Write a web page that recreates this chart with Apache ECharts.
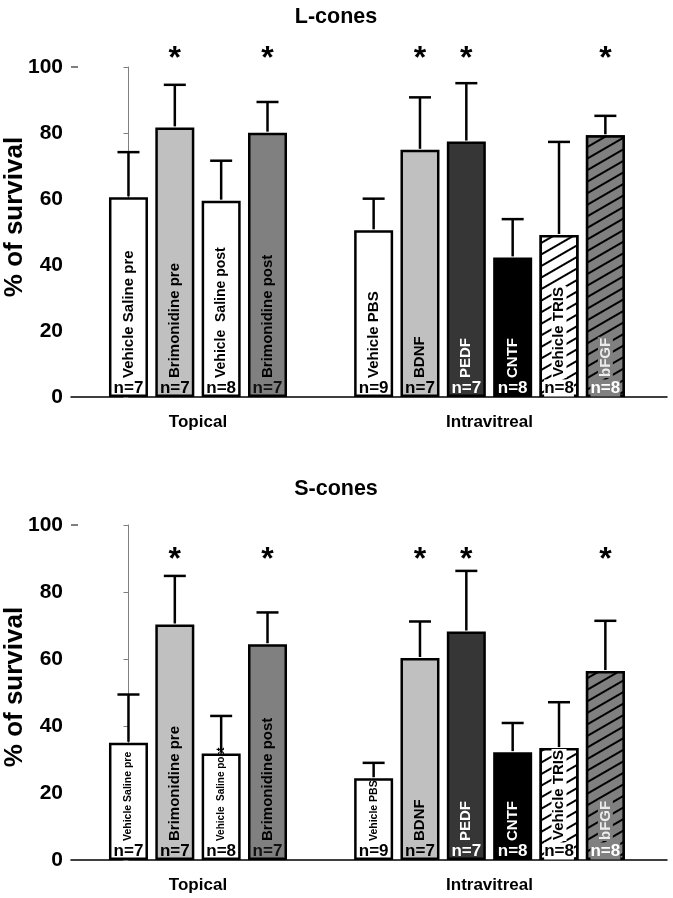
<!DOCTYPE html>
<html><head><meta charset="utf-8">
<script src="https://cdn.jsdelivr.net/npm/echarts@6/dist/echarts.min.js"></script>
<style>html,body{margin:0;padding:0;background:#fff}#c{width:673px;height:898px}</style>
</head><body><div id="c"></div>
<script>
// ---------- data ----------
const barLabels = ['Vehicle Saline pre','Brimonidine pre','Vehicle  Saline post','Brimonidine post','Vehicle PBS','BDNF','PEDF','CNTF','Vehicle TRIS','bFGF'];
const groupOf = [0,0,0,0,1,1,1,1,1,1];
const groupNames = ['Topical','Intravitreal'];
const nLabels = ['n=7','n=7','n=8','n=7','n=9','n=7','n=7','n=8','n=8','n=8'];
const lMeans = [60.5,81.7,59.5,80.1,50.5,74.9,77.4,42.3,49.1,79.3];
const lSD    = [13.7,12.9,12.1,9.3,9.6,15.9,17.7,11.6,28.2,5.9];
const lSig   = [0,1,0,1,0,1,1,0,0,1];
const sMeans = [35.0,70.3,31.8,64.4,24.4,60.3,68.2,32.2,33.4,56.4];
const sSD    = [14.4,14.5,11.2,9.5,4.6,10.9,18.1,8.7,13.7,15.0];
const sSig   = [0,1,0,1,0,1,1,0,0,1];
const yTicks = [0,20,40,60,80,100];

// ---------- styles / layout ----------
const FONT = '"Liberation Sans", Arial, Helvetica, sans-serif';
const GAP = 1.29;
const XMIN = -1.24, XMAX = 11.62;
const xPos = i => i + (groupOf[i] ? GAP : 0);
const barColors = ['#ffffff','#c0c0c0','#ffffff','#808080','#ffffff','#c0c0c0','#363636','#000000','#ffffff','#808080'];
const textColors = ['#000','#000','#000','#000','#000','#000','#fff','#fff','#000','#ececec'];
const nColors = ['#000','#000','#000','#111','#000','#000','#fff','#fff','#000','#fff'];
const textBg = [null,null,null,null,null,null,null,null,'#ffffff','#808080'];
const hatch = (bg) => ({symbol:'rect', symbolSize:1, symbolKeepAspect:false, color:'#000', backgroundColor:bg,
  dashArrayX:[1,0], dashArrayY:[2,8], rotation: -Math.PI/6});
const decals = [null,null,null,null,null,null,null,null,hatch('#ffffff'),hatch('#808080')];

const panels = [
  {title:'L-cones', titleY:17, top:67, height:330, means:lMeans, sd:lSD, sig:lSig, star:104.5, nameY:217,
   sizes:[15,15,14,15,15,15,15,15,15,15]},
  {title:'S-cones', titleY:489, top:525, height:335, means:sMeans, sd:sSD, sig:sSig, star:91.5, nameY:687,
   sizes:[10.5,15,10,15,10.5,15,15,15,15,15]}
];

const grids=[], xAxes=[], yAxes=[], series=[], graphics=[];
panels.forEach((p, pi) => {
  grids.push({left:71, right:6, top:p.top, height:p.height});
  xAxes.push({type:'value', gridIndex:pi, min:XMIN, max:XMAX,
    axisLine:{show:true, onZero:false, lineStyle:{color:'#000', width:1.5}},
    axisTick:{show:false}, axisLabel:{show:false}, splitLine:{show:false}});
  yAxes.push({type:'value', gridIndex:pi, min:yTicks[0], max:yTicks[yTicks.length-1], interval:yTicks[1]-yTicks[0],
    axisLine:{show:true, lineStyle:{color:'#808080', width:1}},
    axisTick:{show:true, length:5, lineStyle:{color:'#808080'}},
    axisLabel:{color:'#000', fontSize:21, fontWeight:'bold', fontFamily:FONT, margin:8},
    splitLine:{show:false}});
  graphics.push({type:'text', x:336, y:p.titleY, style:{text:p.title, font:'bold 21.5px '+FONT, fill:'#000', align:'center', verticalAlign:'middle'}});
  graphics.push({type:'text', x:15, y:p.nameY, rotation:Math.PI/2, style:{text:'% of survival', font:'bold 26px '+FONT, fill:'#000', align:'center', verticalAlign:'middle'}});

  series.push({type:'bar', xAxisIndex:pi, yAxisIndex:pi, barWidth:39, z:2,
    data:p.means.map((v,i)=>({value:[xPos(i), v], itemStyle:{color:barColors[i], decal:decals[i]}})),
    itemStyle:{borderColor:'#000', borderWidth:2.5}});

  series.push({type:'custom', xAxisIndex:pi, yAxisIndex:pi, z:3, encode:{x:0, y:1},
    data:p.means.map((v,i)=>[xPos(i), v, v + p.sd[i]]),
    renderItem:(params, api)=>{
      const a = api.coord([api.value(0), api.value(1)]);
      const b = api.coord([api.value(0), api.value(2)]);
      const st = {stroke:'#000', lineWidth:2.5};
      return {type:'group', children:[
        {type:'line', shape:{x1:a[0], y1:a[1]-1, x2:b[0], y2:b[1]}, style:st},
        {type:'line', shape:{x1:b[0]-11, y1:b[1], x2:b[0]+11, y2:b[1]}, style:st}]};
    }});

  series.push({type:'custom', xAxisIndex:pi, yAxisIndex:pi, z:4, encode:{x:0, y:1},
    data:barLabels.map((t,i)=>[xPos(i), 0, i]),
    renderItem:(params, api)=>{
      const i = api.value(2);
      const c = api.coord([api.value(0), api.value(1)]);
      const ts = {text:barLabels[i], font:'bold '+p.sizes[i]+'px '+FONT, fill:textColors[i], align:'left', verticalAlign:'middle'};
      if (textBg[i]) { ts.backgroundColor = textBg[i]; ts.padding = [0,1,0,1]; }
      const ns = {text:nLabels[i], font:'bold 17px '+FONT, fill:nColors[i], align:'center', verticalAlign:'middle'};
      if (textBg[i]) { ns.backgroundColor = textBg[i]; }
      return {type:'group', children:[
        {type:'text', x:c[0], y:c[1]-19, rotation:Math.PI/2, style:ts},
        {type:'text', x:c[0], y:c[1]-9, style:ns}]};
    }});

  series.push({type:'custom', xAxisIndex:pi, yAxisIndex:pi, z:4, encode:{x:0, y:1}, clip:false,
    data:p.sig.map((s,i)=>s ? [xPos(i), p.star] : null).filter(d=>d),
    renderItem:(params, api)=>{
      const c = api.coord([api.value(0), api.value(1)]);
      return {type:'text', x:c[0], y:c[1]+7, style:{text:'*', font:'bold 32px '+FONT, fill:'#000', align:'center', verticalAlign:'middle'}};
    }});

  series.push({type:'custom', xAxisIndex:pi, yAxisIndex:pi, z:4, encode:{x:0, y:1}, clip:false,
    data:groupNames.map((g,gi)=>{
      const idx = groupOf.map((gg,i)=>gg===gi?i:-1).filter(i=>i>=0);
      return [idx.reduce((s,i)=>s+xPos(i),0)/idx.length, 0, gi];
    }),
    renderItem:(params, api)=>{
      const c = api.coord([api.value(0), api.value(1)]);
      return {type:'text', x:c[0], y:c[1]+25, style:{text:groupNames[api.value(2)], font:'bold 17px '+FONT, fill:'#000', align:'center', verticalAlign:'middle'}};
    }});

  series.push({type:'custom', xAxisIndex:pi, yAxisIndex:pi, z:4, encode:{x:0, y:1}, clip:false,
    data:[[XMIN, yTicks[yTicks.length-1]]],
    renderItem:(params, api)=>{
      const c = api.coord([api.value(0), api.value(1)]);
      return {type:'line', shape:{x1:c[0], y1:c[1], x2:c[0]+7, y2:c[1]}, style:{stroke:'#555', lineWidth:1.5}};
    }});
});

const chart = echarts.init(document.getElementById('c'), null, {renderer:'canvas'});
chart.setOption({animation:false, backgroundColor:'#fff', grid:grids, xAxis:xAxes, yAxis:yAxes, series:series, graphic:graphics});
</script></body></html>
